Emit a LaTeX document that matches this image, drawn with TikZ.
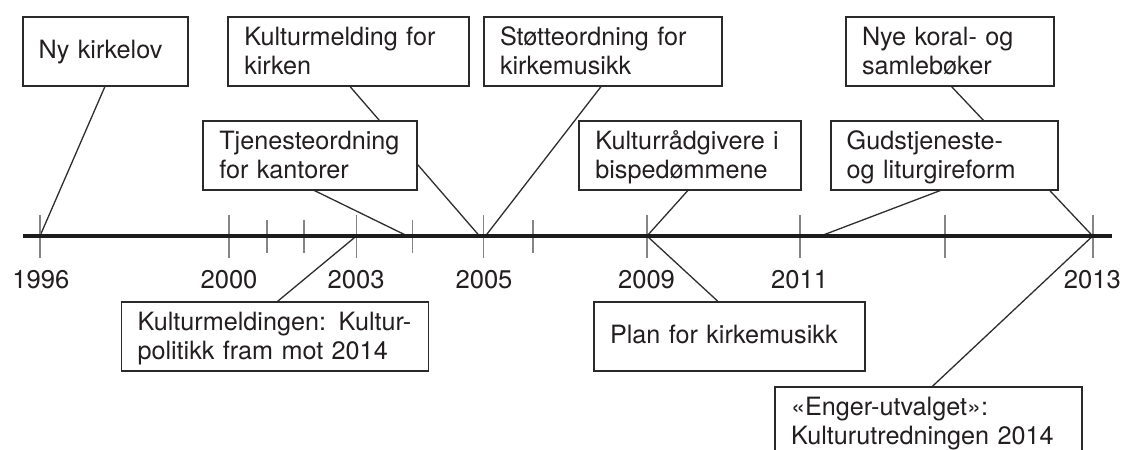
\documentclass[tikz,border=0pt]{standalone}
\usepackage{fontspec}
\setmainfont{TeX Gyre Heros}
\usetikzlibrary{backgrounds}
\definecolor{txtc}{HTML}{231F20}
\definecolor{boxc}{HTML}{2A2A2A}
\definecolor{linec}{HTML}{2E2E2E}
\definecolor{tickc}{HTML}{858585}
\definecolor{axisc}{HTML}{1C1C1C}
\begin{document}
\begin{tikzpicture}[x=0.5pt,y=-0.5pt,
  evbox/.style={draw=boxc, line width=0.85pt, fill=white, anchor=north west,
    minimum width=#1, minimum height=34.5pt, text width=#1-16pt,
    inner xsep=8pt, inner ysep=0pt, outer sep=0pt, align=left,
    text height=9pt, font=\fontsize{12.6}{14.5}\selectfont, text=txtc},
  twoline/.style={text depth=15.2pt},
  oneline/.style={text depth=1.8pt},
  yr/.style={anchor=base, inner sep=0pt, font=\fontsize{12.8}{14.5}\selectfont, text=txtc},
  conn/.style={draw=linec, line width=0.65pt},
  talltick/.style={draw=tickc, line width=0.9pt},
  shorttick/.style={draw=tickc, line width=0.9pt},
  axisline/.style={draw=axisc, line width=2pt}]
\useasboundingbox (0,0) rectangle (1125,450);
\clip (0,0) rectangle (1125,450);

% axis coordinates
\coordinate (axL) at (23,236);
\coordinate (axR) at (1111.7,236);
\coordinate (y1996) at (40,236);
\coordinate (y2000) at (228.6,236);
\coordinate (y2003) at (356.4,236);
\coordinate (y2005) at (483.5,236);
\coordinate (y2009) at (647,236);
\coordinate (y2011) at (799.6,236);
\coordinate (y2012) at (945,236);
\coordinate (y2013) at (1092.7,236);
\coordinate (m2001) at (267,236);
\coordinate (m2002) at (304,236);
\coordinate (m2004) at (412.5,236);
\coordinate (m2006) at (533,236);
\coordinate (e2005a) at (479.5,236);
\coordinate (e2005b) at (485.5,236);
\coordinate (e2011) at (818,237);
\coordinate (e2004) at (409.5,237);

% boxes
\node[evbox=82.8pt, oneline] (b1) at (22.7,16.7) {\mbox{Ny kirkelov}};
\node[evbox=120.5pt, twoline] (b2) at (228.3,16.7) {\mbox{Kulturmelding for}\\\mbox{kirken}};
\node[evbox=107pt, twoline] (b3) at (203.3,121) {\mbox{Tjenesteordning}\\\mbox{for kantorer}};
\node[evbox=118.85pt, twoline] (b4) at (484,16.7) {\mbox{Støtteordning for}\\\mbox{kirkemusikk}};
\node[evbox=110.7pt, twoline] (b5) at (579.3,121) {\mbox{Kulturrådgivere i}\\\mbox{bispedømmene}};
\node[evbox=104pt, twoline] (b6) at (846,16.7) {\mbox{Nye koral- og}\\\mbox{samlebøker}};
\node[evbox=113.8pt, twoline] (b7) at (830.7,121) {\mbox{Gudstjeneste-}\\\mbox{og liturgireform}};
\node[evbox=153.55pt, twoline] (b8) at (121.5,302) {\mbox{Kulturmeldingen: Kultur-}\\\mbox{politikk fram mot 2014}};
\node[evbox=135.5pt, oneline] (b9) at (594,302) {\mbox{Plan for kirkemusikk}};
\node[evbox=153.35pt, twoline] (b10) at (775,387) {\mbox{«Enger-utvalget»:}\\\mbox{Kulturutredningen 2014}};

% year labels
\node[yr] (l1996) at (40.8,288.3) {1996};
\node[yr] (l2000) at (229,288.3) {2000};
\node[yr] (l2003) at (356.2,288.3) {2003};
\node[yr] (l2005) at (484,288.3) {2005};
\node[yr] (l2009) at (646.5,288.3) {2009};
\node[yr] (l2011) at (799.6,288.3) {2011};
\node[yr] (l2013) at (1092.4,288.3) {2013};

\begin{scope}[on background layer]
  \fill[white] (0,0) rectangle (1125,450);
  \draw[conn] ([xshift=41.3pt]b1.south west) -- (y1996);
  \draw[conn] ([xshift=60.5pt]b2.south west) -- (e2005a);
  \draw[conn] ([xshift=55pt]b3.south west) -- (e2004);
  \draw[conn] ([xshift=58.85pt]b4.south west) -- (e2005b);
  \draw[conn] ([xshift=54.5pt]b5.south west) -- (y2009);
  \draw[conn] (y2009) -- ([xshift=62.3pt]b9.north west);
  \draw[conn] ([xshift=52.35pt]b6.south west) -- (y2013);
  \draw[conn] ([xshift=55.5pt]b7.south west) -- (e2011);
  \draw[conn] ([xshift=77.65pt]b8.north west) -- (y2003);
  \draw[conn] ([xshift=78.35pt]b10.north west) -- (y2013);
\end{scope}

% ticks
\foreach \t in {y1996,y2000,y2003,y2005,y2009,y2011,y2012,y2013}
  \draw[talltick] ([yshift=10.5pt]\t) -- ([yshift=-11.15pt]\t);
\foreach \t in {m2001,m2002,m2004,m2006}
  \draw[shorttick] ([yshift=8pt]\t) -- ([yshift=-8.65pt]\t);

% axis
\draw[axisline] (axL) -- (axR);
\end{tikzpicture}
\end{document}
